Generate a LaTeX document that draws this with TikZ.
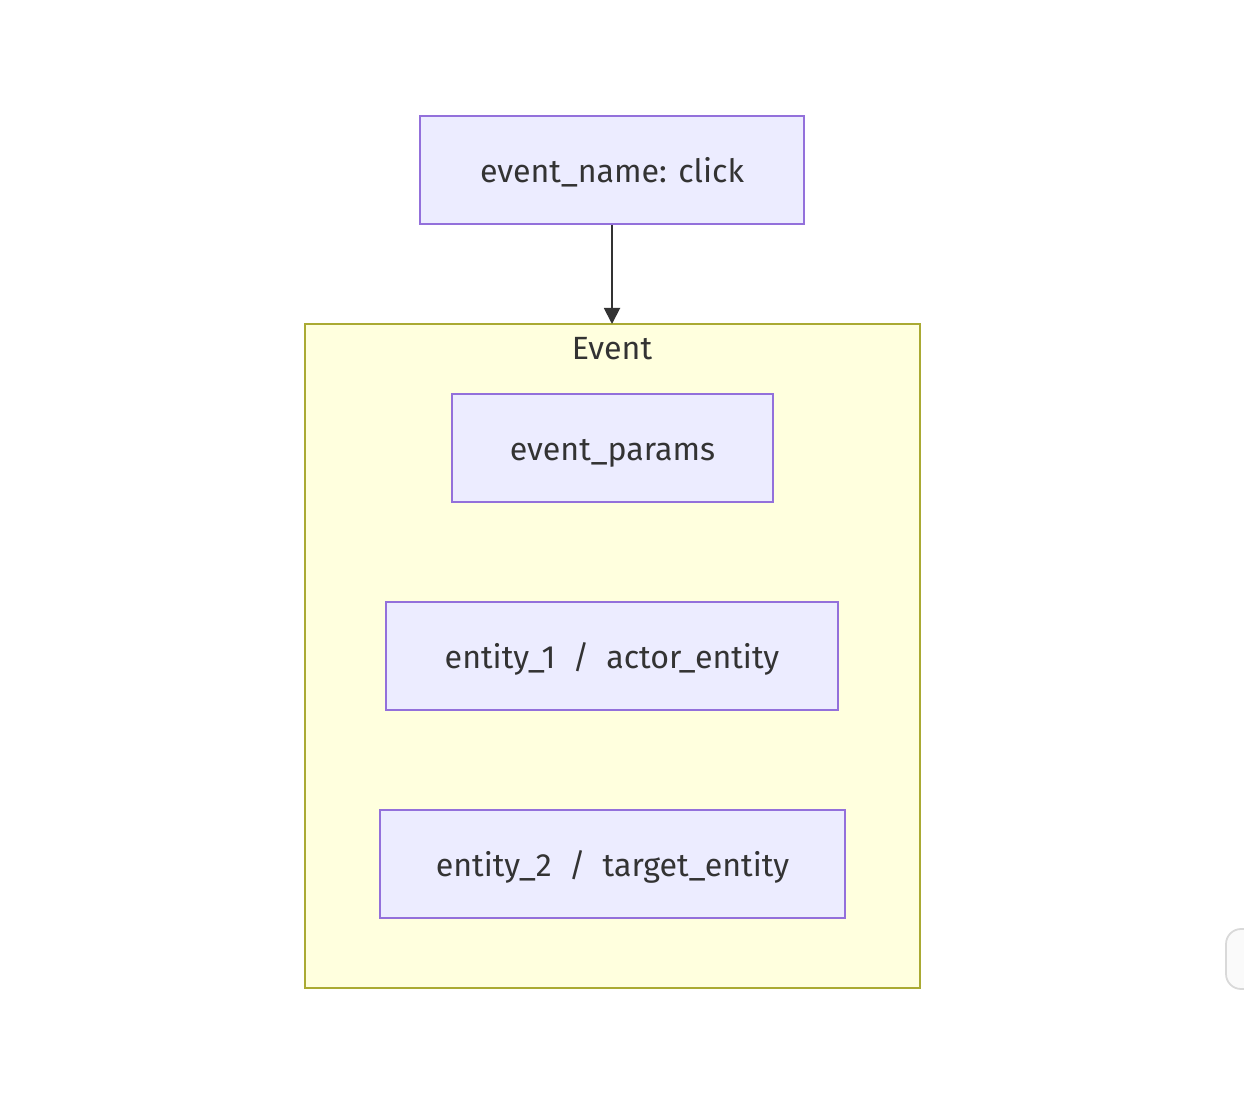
\documentclass[tikz,border=0pt]{standalone}
\usepackage{fontspec}
\setmainfont{Fira Sans}
\usetikzlibrary{arrows.meta}
\definecolor{nodefill}{HTML}{ECECFF}
\definecolor{nodeline}{HTML}{9370DB}
\definecolor{clusterfill}{HTML}{FFFFDE}
\definecolor{clusterline}{HTML}{AAAA33}
\definecolor{textgrey}{HTML}{333333}
\tikzset{
    fieldbox/.style={draw=nodeline, fill=nodefill, line width=1.1pt, minimum height=2.16cm,
        text=textgrey, font=\fontsize{18.3}{22}\selectfont, inner sep=0pt,
        text height=16pt, text depth=2pt},
    flow/.style={draw=textgrey, line width=1.1pt, -{Triangle[length=0.32cm,width=0.32cm]}}
}
\begin{document}
\begin{tikzpicture}[x=0.02cm, y=-0.02cm]
        \useasboundingbox (0,0) rectangle (1244,1094);
        \fill[white] (0,0) rectangle (1244,1094);
        % event cluster
        \filldraw[fill=clusterfill, draw=clusterline, line width=1.1pt] (305,324) rectangle (920,988);
        \node[text=textgrey, font=\fontsize{18.3}{22}\selectfont] (title) at (612,349) {Event};
        \coordinate (eventtop) at (612,324);
        % nodes
        \node[fieldbox, minimum width=7.68cm] (name) at (612,170) {event\_name: click};
        \node[fieldbox, minimum width=6.42cm] (params) at (612.5,448) {event\_params};
        \node[fieldbox, minimum width=9.04cm] (actor) at (612,656) {entity\_1 \ / \ actor\_entity};
        \node[fieldbox, minimum width=9.30cm] (target) at (612.5,864) {entity\_2 \ / \ target\_entity};
        \draw[flow] (name) -- (eventtop);
        % side widget
        \draw[draw=black!15, fill=black!2, line width=1pt, rounded corners=0.3cm] (1226,929) rectangle (1270,989);
\end{tikzpicture}
\end{document}
